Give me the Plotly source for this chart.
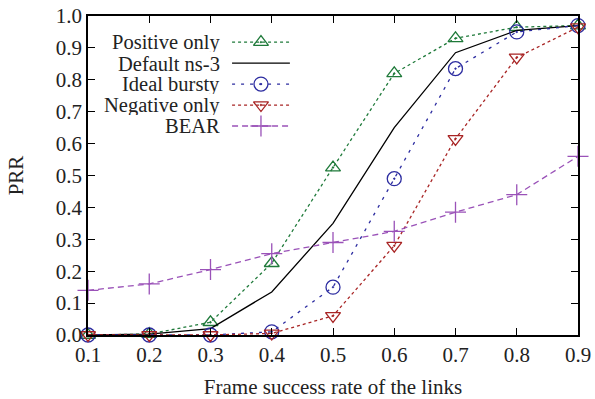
import plotly.graph_objects as go

# ---- data ----
frame_success = [0.1, 0.2, 0.3, 0.4, 0.5, 0.6, 0.7, 0.8, 0.9]
positive_only = [0.0, 0.003, 0.04, 0.225, 0.525, 0.82, 0.93, 0.965, 0.97]
default_ns3 = [0.0, 0.003, 0.02, 0.135, 0.35, 0.65, 0.885, 0.955, 0.97]
ideal_bursty = [0.0, 0.0, 0.0, 0.01, 0.15, 0.49, 0.835, 0.95, 0.97]
negative_only = [0.0, 0.0, 0.0, 0.005, 0.06, 0.28, 0.615, 0.87, 0.965]
bear = [0.14, 0.16, 0.205, 0.255, 0.29, 0.325, 0.385, 0.44, 0.56]

series_names = ["Positive only", "Default ns-3", "Ideal bursty", "Negative only", "BEAR"]
x_ticks = [0.1, 0.2, 0.3, 0.4, 0.5, 0.6, 0.7, 0.8, 0.9]
y_ticks = [0.0, 0.1, 0.2, 0.3, 0.4, 0.5, 0.6, 0.7, 0.8, 0.9, 1.0]

FONT = "Liberation Serif, Times New Roman, serif"
FS = 21

styles = [
    dict(color="#1f7a3a", dash="dot", symbol="triangle-up-open-dot", size=13),
    dict(color="#000000", dash="solid", symbol=None, size=0),
    dict(color="#2c2ca0", dash="3px,6px", symbol="circle-open-dot", size=14),
    dict(color="#a82424", dash="dot", symbol="triangle-down-open-dot", size=13),
    dict(color="#9a52b8", dash="6px,4px", symbol="cross-thin-open", size=15),
]
values = [positive_only, default_ns3, ideal_bursty, negative_only, bear]

fig = go.Figure()
for name, ys, st in zip(series_names, values, styles):
    mode = "lines+markers" if st["symbol"] else "lines"
    kw = dict(marker=dict(symbol=st["symbol"], size=st["size"], color=st["color"],
                          line=dict(width=1.3, color=st["color"]))) if st["symbol"] else {}
    fig.add_trace(go.Scatter(x=frame_success, y=ys, mode=mode, name=name,
                             line=dict(color=st["color"], dash=st["dash"], width=1.3),
                             showlegend=False, cliponaxis=False, **kw))

# ---- custom gnuplot-style legend (text right-aligned, sample to its right) ----
row_y0 = 0.918
row_step = 0.0657
for i, (name, st) in enumerate(zip(series_names, styles)):
    yy = row_y0 - i * row_step
    fig.add_annotation(x=0.272, y=yy, xref="paper", yref="paper", text=name,
                       showarrow=False, xanchor="right", yanchor="middle", height=19,
                       borderpad=0,
                       font=dict(family=FONT, size=20.5, color="#222"))
    fig.add_trace(go.Scatter(x=[0.294, 0.412], y=[yy, yy], mode="lines",
                             line=dict(color=st["color"], dash=st["dash"], width=1.3),
                             xaxis="x2", yaxis="y2", showlegend=False, hoverinfo="skip"))
    if st["symbol"]:
        fig.add_trace(go.Scatter(x=[0.353], y=[yy], mode="markers",
                                 marker=dict(symbol=st["symbol"], size=st["size"], color=st["color"],
                                             line=dict(width=1.3, color=st["color"])),
                                 xaxis="x2", yaxis="y2", showlegend=False, hoverinfo="skip"))

axis_common = dict(showline=True, linecolor="black", linewidth=1.5, mirror="ticks",
                   ticks="inside", ticklen=7, tickwidth=1.3, tickcolor="black",
                   showgrid=False, zeroline=False, automargin=False,
                   tickfont=dict(family=FONT, size=FS, color="#222"))

fig.update_layout(
    width=595, height=399,
    margin=dict(l=88, r=17, t=16, b=64),
    paper_bgcolor="white", plot_bgcolor="white",
    xaxis=dict(range=[0.1, 0.9], tickvals=x_ticks, ticktext=[f"{v:.1f}" for v in x_ticks],
               title=dict(text="Frame success rate of the links",
                          font=dict(family=FONT, size=FS, color="#222"), standoff=18),
               **axis_common),
    yaxis=dict(range=[0.0, 1.0], tickvals=y_ticks, ticktext=[f"{v:.1f}" for v in y_ticks],
               title=dict(text="PRR", font=dict(family=FONT, size=FS, color="#222"), standoff=26),
               **axis_common),
    xaxis2=dict(overlaying="x", range=[0, 1], visible=False),
    yaxis2=dict(overlaying="y", range=[0, 1], visible=False),
    showlegend=False,
)

fig.write_html("out.html")
